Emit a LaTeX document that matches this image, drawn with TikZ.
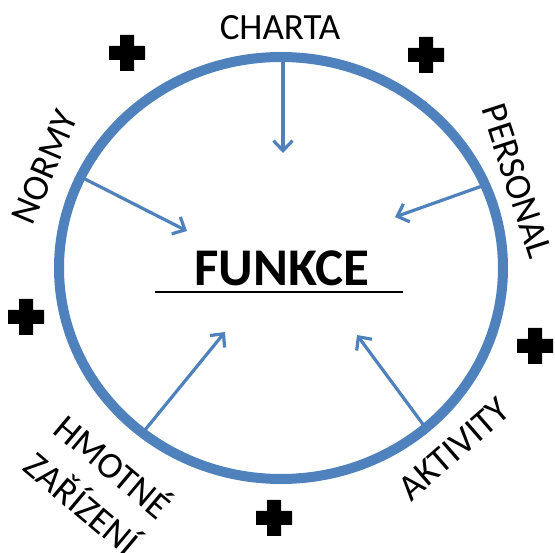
\documentclass[tikz,border=0pt]{standalone}
\usepackage{fontspec}
\setmainfont{Carlito}
\usetikzlibrary{arrows.meta}
\definecolor{ringblue}{RGB}{79,129,189}
\tikzset{
  ring/.style={draw=ringblue,line width=10pt},
  feed/.style={draw=ringblue,line width=3.2pt,-{Straight Barb[length=10pt,width=19pt]}},
  lbl/.style={font=\fontsize{37}{48}\selectfont,inner sep=0pt},
  plussign/.pic={\fill[black] (-18,-7) -- (-7,-7) -- (-7,-18) -- (7,-18) -- (7,-7) -- (18,-7) -- (18,7) -- (7,7) -- (7,18) -- (-7,18) -- (-7,7) -- (-18,7) -- cycle;}
}
\begin{document}
\begin{tikzpicture}[x=1pt,y=-1pt]
\fill[white] (0,0) rectangle (555,553);
\useasboundingbox (0,0) rectangle (555,553);

% arrow ends
\coordinate (sC) at (283,58);  \coordinate (tC) at (283,153);
\coordinate (sN) at (83,178);  \coordinate (tN) at (187,231);
\coordinate (sP) at (485,185); \coordinate (tP) at (395,217);
\coordinate (sH) at (145,430); \coordinate (tH) at (225,332);
\coordinate (sA) at (425,427); \coordinate (tA) at (357,335);

\draw[feed] (sC) -- (tC);
\draw[feed] (sN) -- (tN);
\draw[feed] (sP) -- (tP);
\draw[feed] (sH) -- (tH);
\draw[feed] (sA) -- (tA);

\draw[ring] (281,268) ellipse [x radius=222pt, y radius=211pt];

% central label
\node[font=\bfseries\fontsize{53}{60}\selectfont, anchor=base, inner sep=0pt] (fun) at (282,286) {FUNKCE};
\coordinate (u1) at (155,292); \coordinate (u2) at (403,292);
\draw[line width=2.5pt] (u1) -- (u2);

% outer labels
\node[lbl] (charta) at (280,28) {CHARTA};
\node[lbl,rotate=67] (normy) at (45,167) {NORMY};
\node[lbl,rotate=-72] (personal) at (517,181) {PERSONAL};
\node[lbl,rotate=41] (aktivity) at (454,449) {AKTIVITY};
\node[lbl,rotate=-40,align=center] (hmotne) at (99,483) {HMOTNÉ\\ZAŘÍZENÍ};

% plus signs
\pic at (127,53) {plussign};
\pic at (426,55) {plussign};
\pic at (26,317) {plussign};
\pic at (535,346) {plussign};
\pic at (274,518) {plussign};
\end{tikzpicture}
\end{document}
